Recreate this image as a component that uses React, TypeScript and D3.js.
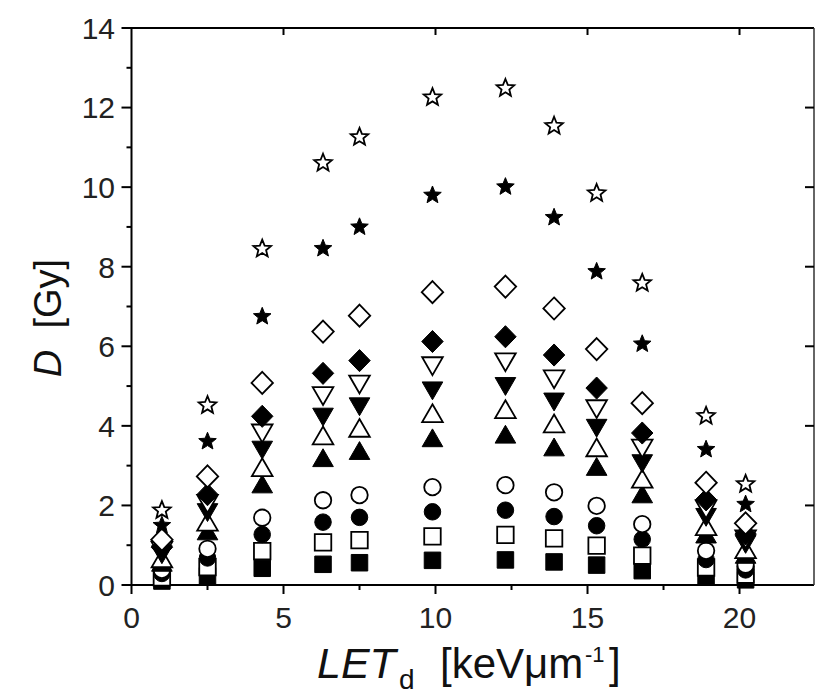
import React, { useMemo } from "react";
import * as d3 from "d3";

// LET_d values (keV/um) of each measurement column
const LET = [1.0, 2.5, 4.3, 6.3, 7.5, 9.9, 12.3, 13.9, 15.3, 16.8, 18.9, 20.2];

// Dose D [Gy] for each series, one value per LET column
const filledSquare = [0.10, 0.23, 0.42, 0.52, 0.56, 0.62, 0.63, 0.58, 0.50, 0.36, 0.21, 0.13];
const openSquare = [0.19, 0.45, 0.85, 1.07, 1.13, 1.22, 1.26, 1.17, 0.99, 0.74, 0.44, 0.26];
const filledCircle = [0.29, 0.68, 1.27, 1.58, 1.70, 1.84, 1.88, 1.72, 1.49, 1.15, 0.64, 0.38];
const openCircle = [0.38, 0.91, 1.69, 2.13, 2.26, 2.46, 2.51, 2.33, 1.99, 1.53, 0.86, 0.51];
const filledTriUp = [0.57, 1.36, 2.54, 3.20, 3.38, 3.70, 3.79, 3.47, 2.98, 2.29, 1.28, 0.77];
const openTriUp = [0.67, 1.59, 2.96, 3.76, 3.95, 4.32, 4.42, 4.06, 3.46, 2.67, 1.48, 0.90];
const filledTriDown = [0.76, 1.82, 3.39, 4.22, 4.48, 4.88, 4.99, 4.60, 3.94, 3.05, 1.70, 1.02];
const openTriDown = [0.86, 2.04, 3.81, 4.75, 5.04, 5.50, 5.60, 5.17, 4.42, 3.43, 1.90, 1.15];
const filledDiamond = [0.95, 2.27, 4.24, 5.32, 5.64, 6.12, 6.24, 5.78, 4.95, 3.82, 2.14, 1.28];
const openDiamond = [1.14, 2.73, 5.08, 6.37, 6.77, 7.36, 7.50, 6.95, 5.93, 4.57, 2.57, 1.55];
const filledStar = [1.52, 3.63, 6.77, 8.48, 9.02, 9.82, 10.03, 9.26, 7.90, 6.08, 3.43, 2.05];
const openStar = [1.90, 4.54, 8.47, 10.63, 11.28, 12.28, 12.51, 11.56, 9.87, 7.61, 4.27, 2.56];

// axis ticks
const xMajorTicks = [0, 5, 10, 15, 20];
const xMinorTicks = [2.5, 7.5, 12.5, 17.5];
const yMajorTicks = [0, 2, 4, 6, 8, 10, 12, 14];
const yMinorTicks = [1, 3, 5, 7, 9, 11, 13];

type Ctx = { moveTo: (x: number, y: number) => void; lineTo: (x: number, y: number) => void; closePath: () => void; arc: (...a: number[]) => void };

const squareType = {
  draw(ctx: Ctx, s: number) {
    const h = s / 2;
    ctx.moveTo(-h, -h); ctx.lineTo(h, -h); ctx.lineTo(h, h); ctx.lineTo(-h, h); ctx.closePath();
  },
};
const circleType = {
  draw(ctx: Ctx, s: number) {
    const r = s / 2;
    ctx.moveTo(r, 0);
    ctx.arc(0, 0, r, 0, 2 * Math.PI);
  },
};
const triUpType = {
  draw(ctx: Ctx, s: number) {
    const w = s * 1.25, h = s * 1.08;
    ctx.moveTo(0, -h / 2); ctx.lineTo(w / 2, h / 2); ctx.lineTo(-w / 2, h / 2); ctx.closePath();
  },
};
const triDownType = {
  draw(ctx: Ctx, s: number) {
    const w = s * 1.25, h = s * 1.08;
    ctx.moveTo(0, h / 2); ctx.lineTo(w / 2, -h / 2); ctx.lineTo(-w / 2, -h / 2); ctx.closePath();
  },
};
const diamondType = {
  draw(ctx: Ctx, s: number) {
    const a = s * 0.67;
    ctx.moveTo(0, -a); ctx.lineTo(a * 0.97, 0); ctx.lineTo(0, a); ctx.lineTo(-a * 0.97, 0); ctx.closePath();
  },
};
const starType = {
  draw(ctx: Ctx, s: number) {
    const R = s * 0.56, r = R * 0.44;
    for (let i = 0; i < 10; i++) {
      const rad = i % 2 === 0 ? R : r;
      const ang = -Math.PI / 2 + (i * Math.PI) / 5;
      const x = rad * Math.cos(ang), y = rad * Math.sin(ang) + R * 0.1;
      if (i === 0) ctx.moveTo(x, y); else ctx.lineTo(x, y);
    }
    ctx.closePath();
  },
};

const seriesList = [
  { name: "filledSquare", values: filledSquare, type: squareType, filled: true },
  { name: "openSquare", values: openSquare, type: squareType, filled: false },
  { name: "filledCircle", values: filledCircle, type: circleType, filled: true },
  { name: "openCircle", values: openCircle, type: circleType, filled: false },
  { name: "filledTriUp", values: filledTriUp, type: triUpType, filled: true },
  { name: "openTriUp", values: openTriUp, type: triUpType, filled: false },
  { name: "filledTriDown", values: filledTriDown, type: triDownType, filled: true },
  { name: "openTriDown", values: openTriDown, type: triDownType, filled: false },
  { name: "filledDiamond", values: filledDiamond, type: diamondType, filled: true },
  { name: "openDiamond", values: openDiamond, type: diamondType, filled: false },
  { name: "filledStar", values: filledStar, type: starType, filled: true },
  { name: "openStar", values: openStar, type: starType, filled: false },
];

const W = 815, H = 694;
const FONT = "'Liberation Sans', Arial, Helvetica, sans-serif";

export default function App() {
  const x = useMemo(() => d3.scaleLinear().domain([0, 22.45]).range([131.5, 814]), []);
  const y = useMemo(() => d3.scaleLinear().domain([0, 14]).range([585, 28]), []);
  const x0 = x.range()[0], x1 = x.range()[1];
  const y0 = y.range()[0], y1 = y.range()[1];

  const sym = (type: any) => d3.symbol().type(type).size(16.5)() as string;

  return (
    <svg width={W} height={H} style={{ position: "absolute", left: 0, top: 0, background: "#fff" }} fontFamily={FONT}>
      <rect x={0} y={0} width={W} height={H} fill="#fff" />
      {/* frame */}
      <line x1={x0} x2={x1} y1={y0} y2={y0} stroke="#000" strokeWidth={2} />
      <line x1={x0} x2={x1} y1={y1} y2={y1} stroke="#000" strokeWidth={2} />
      <line x1={x0} x2={x0} y1={y0 + 1} y2={y1 - 1} stroke="#000" strokeWidth={2} />
      <line x1={x1} x2={x1} y1={y0} y2={y1} stroke="#333" strokeWidth={1.5} />

      {/* bottom ticks */}
      {xMajorTicks.map((t) => (
        <g key={"xb" + t}>
          <line x1={x(t)} x2={x(t)} y1={y0} y2={y0 + 9} stroke="#000" strokeWidth={2} />
          <text x={x(t)} y={628} textAnchor="middle" fontSize={30} fill="#222">{t}</text>
        </g>
      ))}
      {xMinorTicks.map((t) => (
        <line key={"xm" + t} x1={x(t)} x2={x(t)} y1={y0} y2={y0 + 5} stroke="#000" strokeWidth={2} />
      ))}
      {/* top ticks (inward) */}
      {xMajorTicks.filter((t) => t > 0).map((t) => (
        <line key={"xt" + t} x1={x(t)} x2={x(t)} y1={y1} y2={y1 + 7} stroke="#000" strokeWidth={2} />
      ))}
      {/* left ticks */}
      {yMajorTicks.map((t) => (
        <g key={"yl" + t}>
          <line x1={x0 - 10} x2={x0} y1={y(t)} y2={y(t)} stroke="#000" strokeWidth={2} />
          <text x={115} y={y(t)} dy="0.36em" textAnchor="end" fontSize={30} fill="#222">{t}</text>
        </g>
      ))}
      {yMinorTicks.map((t) => (
        <line key={"ym" + t} x1={x0 - 5} x2={x0} y1={y(t)} y2={y(t)} stroke="#000" strokeWidth={2} />
      ))}
      {/* right ticks (inward) */}
      {yMajorTicks.filter((t) => t > 0 && t < 14).map((t) => (
        <line key={"yr" + t} x1={x1 - 9} x2={x1} y1={y(t)} y2={y(t)} stroke="#000" strokeWidth={2} />
      ))}

      {/* data markers */}
      {seriesList.map((s) => (
        <g key={s.name}>
          {s.values.map((v, i) => (
            <path
              key={i}
              d={sym(s.type)}
              transform={`translate(${x(LET[i])},${y(v)})`}
              fill={s.filled ? "#000" : "#fff"}
              stroke="#000"
              strokeWidth={s.filled ? 1 : 1.8}
              strokeLinejoin="miter"
            />
          ))}
        </g>
      ))}

      {/* axis titles */}
      <text transform="translate(61,318) rotate(-90)" textAnchor="middle" fontSize={38} fill="#111">
        <tspan fontStyle="italic">D</tspan>
        <tspan>{"\u00A0\u00A0[Gy]"}</tspan>
      </text>
      <g fill="#111">
        <text x={317} y={678} fontSize={43} fontStyle="italic">LET</text>
        <text x={399} y={689} fontSize={28}>d</text>
        <text x={440} y={678} fontSize={42}>[keVμm</text>
        <text x={585} y={662} fontSize={22}>-1</text>
        <text x={609} y={678} fontSize={42}>]</text>
      </g>
    </svg>
  );
}
